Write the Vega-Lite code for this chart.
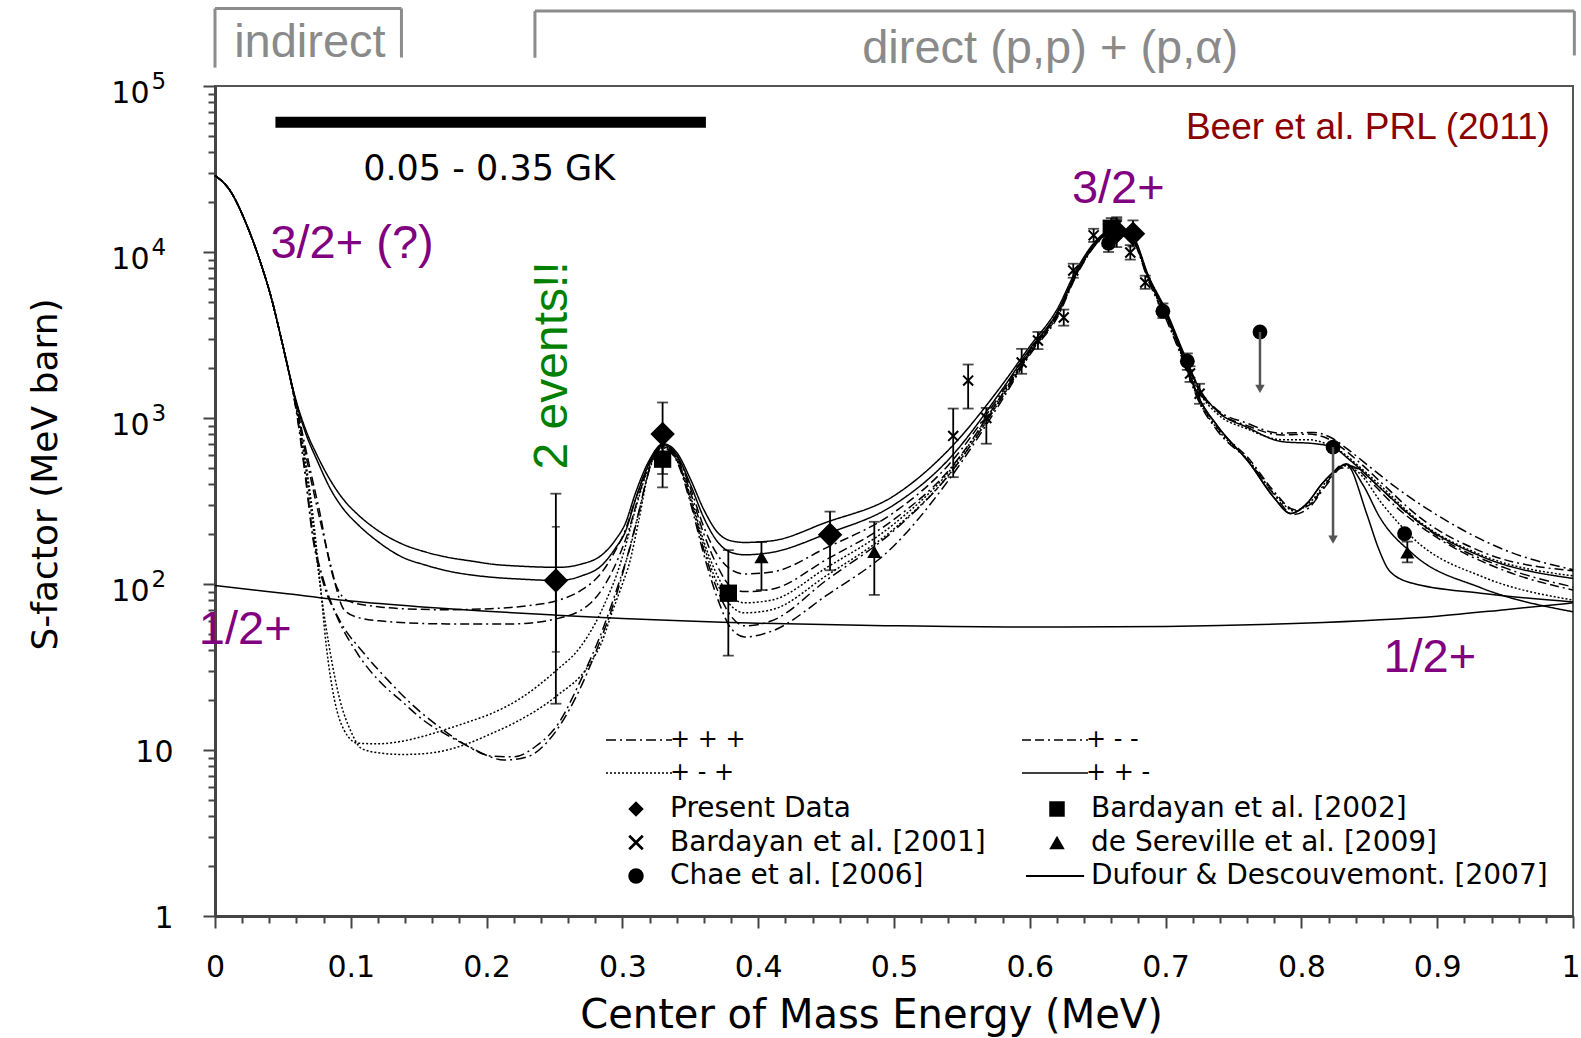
{
"$schema": "https://vega.github.io/schema/vega-lite/v6.json",
"width": 1358, "height": 830,
"autosize": "none",
"padding": {"left": 215, "top": 86, "right": 8, "bottom": 122},
"background": "white",
"config": {"view": {"stroke": "#555", "strokeWidth": 2}, "font": "DejaVu Sans"},
"resolve": {"axis": {"x": "independent", "y": "independent"}},
"datasets": {
"half": [{"x":0,"y":98},{"x":0.05,"y":88},{"x":0.1,"y":79},{"x":0.15,"y":73},{"x":0.2,"y":68.5},{"x":0.25,"y":65},{"x":0.3,"y":62},{"x":0.4,"y":58},{"x":0.5,"y":56},{"x":0.6,"y":55},{"x":0.7,"y":55.5},{"x":0.8,"y":58},{"x":0.9,"y":64},{"x":0.95,"y":70},{"x":1,"y":77}],
"duf": [{"x":0.7,"y":4300},{"x":0.713,"y":2350},{"x":0.725,"y":1300},{"x":0.738,"y":900},{"x":0.762,"y":532},{"x":0.78,"y":330},{"x":0.792,"y":266},{"x":0.804,"y":305},{"x":0.815,"y":400},{"x":0.826,"y":490},{"x":0.833,"y":525},{"x":0.848,"y":266},{"x":0.856,"y":170},{"x":0.863,"y":126},{"x":0.872,"y":108},{"x":0.882,"y":101},{"x":0.932,"y":88},{"x":1,"y":78}],
"curves": [
{"c":"S1","s":"+ + -","x":0,"y":28900},{"c":"S1","s":"+ + -","x":0.011,"y":23500},{"c":"S1","s":"+ + -","x":0.023,"y":14800},{"c":"S1","s":"+ + -","x":0.033,"y":8900},{"c":"S1","s":"+ + -","x":0.042,"y":5100},{"c":"S1","s":"+ + -","x":0.049,"y":2950},{"c":"S1","s":"+ + -","x":0.055,"y":1800},
{"c":"S1","s":"+ + -","x":0.06,"y":1250},{"c":"S1","s":"+ + -","x":0.0675,"y":820},{"c":"S1","s":"+ + -","x":0.075,"y":600},{"c":"S1","s":"+ + -","x":0.0853,"y":417},{"c":"S1","s":"+ + -","x":0.095,"y":320},{"c":"S1","s":"+ + -","x":0.105,"y":263},{"c":"S1","s":"+ + -","x":0.12,"y":210},{"c":"S1","s":"+ + -","x":0.138,"y":174},{"c":"S1","s":"+ + -","x":0.155,"y":156},{"c":"S1","s":"+ + -","x":0.171,"y":145},{"c":"S1","s":"+ + -","x":0.19,"y":137},{"c":"S1","s":"+ + -","x":0.203,"y":132},{"c":"S1","s":"+ + -","x":0.225,"y":128},{"c":"S1","s":"+ + -","x":0.253,"y":126},{"c":"S1","s":"+ + -","x":0.27,"y":132},{"c":"S1","s":"+ + -","x":0.285,"y":150},{"c":"S1","s":"+ + -","x":0.295,"y":185},{"c":"S1","s":"+ + -","x":0.302,"y":230},{"c":"S1","s":"+ + -","x":0.31,"y":360},{"c":"S1","s":"+ + -","x":0.32,"y":560},{"c":"S1","s":"+ + -","x":0.33,"y":700},{"c":"S1","s":"+ + -","x":0.34,"y":620},{"c":"S1","s":"+ + -","x":0.35,"y":430},{"c":"S1","s":"+ + -","x":0.36,"y":280},{"c":"S1","s":"+ + -","x":0.37,"y":205},{"c":"S1","s":"+ + -","x":0.38,"y":182},{"c":"S1","s":"+ + -","x":0.39,"y":178},{"c":"S1","s":"+ + -","x":0.41,"y":182},{"c":"S1","s":"+ + -","x":0.45,"y":235},{"c":"S1","s":"+ + -","x":0.5,"y":340},{"c":"S1","s":"+ + -","x":0.54,"y":640},{"c":"S1","s":"+ + -","x":0.58,"y":1600},{"c":"S1","s":"+ + -","x":0.6,"y":2700},{"c":"S1","s":"+ + -","x":0.62,"y":4500},{"c":"S1","s":"+ + -","x":0.635,"y":8000},{"c":"S1","s":"+ + -","x":0.65,"y":12000},{"c":"S1","s":"+ + -","x":0.664,"y":14000},{"c":"S1","s":"+ + -","x":0.675,"y":12800},{"c":"S1","s":"+ + -","x":0.688,"y":7000},{"c":"S1","s":"+ + -","x":0.7,"y":4500},{"c":"S1","s":"+ + -","x":0.713,"y":2500},{"c":"S1","s":"+ + -","x":0.725,"y":1500},{"c":"S1","s":"+ + -","x":0.738,"y":1100},{"c":"S1","s":"+ + -","x":0.76,"y":880},{"c":"S1","s":"+ + -","x":0.786,"y":720},{"c":"S1","s":"+ + -","x":0.81,"y":700},{"c":"S1","s":"+ + -","x":0.823,"y":668},{"c":"S1","s":"+ + -","x":0.836,"y":555},{"c":"S1","s":"+ + -","x":0.86,"y":366},{"c":"S1","s":"+ + -","x":0.885,"y":241},{"c":"S1","s":"+ + -","x":0.934,"y":145},{"c":"S1","s":"+ + -","x":1,"y":108},
{"c":"S2","s":"+ + -","x":0,"y":28900},{"c":"S2","s":"+ + -","x":0.011,"y":23500},{"c":"S2","s":"+ + -","x":0.023,"y":14800},{"c":"S2","s":"+ + -","x":0.033,"y":8900},{"c":"S2","s":"+ + -","x":0.042,"y":5100},{"c":"S2","s":"+ + -","x":0.049,"y":2950},{"c":"S2","s":"+ + -","x":0.055,"y":1800},
{"c":"S2","s":"+ + -","x":0.06,"y":1220},{"c":"S2","s":"+ + -","x":0.0675,"y":780},{"c":"S2","s":"+ + -","x":0.075,"y":560},{"c":"S2","s":"+ + -","x":0.0853,"y":370},{"c":"S2","s":"+ + -","x":0.095,"y":280},{"c":"S2","s":"+ + -","x":0.105,"y":229},{"c":"S2","s":"+ + -","x":0.12,"y":180},{"c":"S2","s":"+ + -","x":0.138,"y":145},{"c":"S2","s":"+ + -","x":0.155,"y":130},{"c":"S2","s":"+ + -","x":0.171,"y":120},{"c":"S2","s":"+ + -","x":0.19,"y":113},{"c":"S2","s":"+ + -","x":0.203,"y":110},{"c":"S2","s":"+ + -","x":0.225,"y":107},{"c":"S2","s":"+ + -","x":0.253,"y":105},{"c":"S2","s":"+ + -","x":0.27,"y":112},{"c":"S2","s":"+ + -","x":0.285,"y":130},{"c":"S2","s":"+ + -","x":0.295,"y":165},{"c":"S2","s":"+ + -","x":0.302,"y":205},{"c":"S2","s":"+ + -","x":0.31,"y":330},{"c":"S2","s":"+ + -","x":0.32,"y":540},{"c":"S2","s":"+ + -","x":0.33,"y":690},{"c":"S2","s":"+ + -","x":0.34,"y":600},{"c":"S2","s":"+ + -","x":0.35,"y":400},{"c":"S2","s":"+ + -","x":0.36,"y":250},{"c":"S2","s":"+ + -","x":0.37,"y":180},{"c":"S2","s":"+ + -","x":0.38,"y":155},{"c":"S2","s":"+ + -","x":0.39,"y":150},{"c":"S2","s":"+ + -","x":0.41,"y":155},{"c":"S2","s":"+ + -","x":0.45,"y":200},{"c":"S2","s":"+ + -","x":0.5,"y":300},{"c":"S2","s":"+ + -","x":0.54,"y":560},{"c":"S2","s":"+ + -","x":0.58,"y":1500},{"c":"S2","s":"+ + -","x":0.6,"y":2600},{"c":"S2","s":"+ + -","x":0.62,"y":4300},{"c":"S2","s":"+ + -","x":0.635,"y":7700},{"c":"S2","s":"+ + -","x":0.65,"y":11800},{"c":"S2","s":"+ + -","x":0.664,"y":13800},{"c":"S2","s":"+ + -","x":0.675,"y":12500},{"c":"S2","s":"+ + -","x":0.688,"y":6800},{"c":"S2","s":"+ + -","x":0.7,"y":4300},{"c":"S2","s":"+ + -","x":0.713,"y":2350},{"c":"S2","s":"+ + -","x":0.725,"y":1300},{"c":"S2","s":"+ + -","x":0.738,"y":900},{"c":"S2","s":"+ + -","x":0.762,"y":532},{"c":"S2","s":"+ + -","x":0.78,"y":330},{"c":"S2","s":"+ + -","x":0.792,"y":266},{"c":"S2","s":"+ + -","x":0.804,"y":305},{"c":"S2","s":"+ + -","x":0.815,"y":400},{"c":"S2","s":"+ + -","x":0.826,"y":490},{"c":"S2","s":"+ + -","x":0.833,"y":530},{"c":"S2","s":"+ + -","x":0.845,"y":400},{"c":"S2","s":"+ + -","x":0.858,"y":250},{"c":"S2","s":"+ + -","x":0.882,"y":152},{"c":"S2","s":"+ + -","x":0.932,"y":95},{"c":"S2","s":"+ + -","x":1,"y":68},
{"c":"D1","s":"+ - -","x":0,"y":28900},{"c":"D1","s":"+ - -","x":0.011,"y":23500},{"c":"D1","s":"+ - -","x":0.023,"y":14800},{"c":"D1","s":"+ - -","x":0.033,"y":8900},{"c":"D1","s":"+ - -","x":0.042,"y":5100},{"c":"D1","s":"+ - -","x":0.049,"y":2950},{"c":"D1","s":"+ - -","x":0.055,"y":1800},
{"c":"D1","s":"+ - -","x":0.06,"y":1200},{"c":"D1","s":"+ - -","x":0.066,"y":700},{"c":"D1","s":"+ - -","x":0.072,"y":417},{"c":"D1","s":"+ - -","x":0.078,"y":250},{"c":"D1","s":"+ - -","x":0.082,"y":166},{"c":"D1","s":"+ - -","x":0.087,"y":110},{"c":"D1","s":"+ - -","x":0.092,"y":88},{"c":"D1","s":"+ - -","x":0.1,"y":78},{"c":"D1","s":"+ - -","x":0.12,"y":73},{"c":"D1","s":"+ - -","x":0.138,"y":71},{"c":"D1","s":"+ - -","x":0.17,"y":70},{"c":"D1","s":"+ - -","x":0.203,"y":71},{"c":"D1","s":"+ - -","x":0.23,"y":74},{"c":"D1","s":"+ - -","x":0.251,"y":79},{"c":"D1","s":"+ - -","x":0.269,"y":91},{"c":"D1","s":"+ - -","x":0.285,"y":118},{"c":"D1","s":"+ - -","x":0.295,"y":160},{"c":"D1","s":"+ - -","x":0.302,"y":210},{"c":"D1","s":"+ - -","x":0.31,"y":330},{"c":"D1","s":"+ - -","x":0.32,"y":540},{"c":"D1","s":"+ - -","x":0.33,"y":680},{"c":"D1","s":"+ - -","x":0.34,"y":590},{"c":"D1","s":"+ - -","x":0.35,"y":380},{"c":"D1","s":"+ - -","x":0.36,"y":220},{"c":"D1","s":"+ - -","x":0.37,"y":150},{"c":"D1","s":"+ - -","x":0.38,"y":122},{"c":"D1","s":"+ - -","x":0.39,"y":115},{"c":"D1","s":"+ - -","x":0.41,"y":118},{"c":"D1","s":"+ - -","x":0.45,"y":165},{"c":"D1","s":"+ - -","x":0.5,"y":270},{"c":"D1","s":"+ - -","x":0.54,"y":520},{"c":"D1","s":"+ - -","x":0.58,"y":1450},{"c":"D1","s":"+ - -","x":0.6,"y":2550},{"c":"D1","s":"+ - -","x":0.62,"y":4300},{"c":"D1","s":"+ - -","x":0.635,"y":7700},{"c":"D1","s":"+ - -","x":0.65,"y":11800},{"c":"D1","s":"+ - -","x":0.664,"y":13800},{"c":"D1","s":"+ - -","x":0.675,"y":12500},{"c":"D1","s":"+ - -","x":0.688,"y":6900},{"c":"D1","s":"+ - -","x":0.7,"y":4400},{"c":"D1","s":"+ - -","x":0.713,"y":2450},{"c":"D1","s":"+ - -","x":0.725,"y":1450},{"c":"D1","s":"+ - -","x":0.738,"y":1100},{"c":"D1","s":"+ - -","x":0.76,"y":900},{"c":"D1","s":"+ - -","x":0.786,"y":790},{"c":"D1","s":"+ - -","x":0.805,"y":800},{"c":"D1","s":"+ - -","x":0.818,"y":760},{"c":"D1","s":"+ - -","x":0.83,"y":660},{"c":"D1","s":"+ - -","x":0.845,"y":520},{"c":"D1","s":"+ - -","x":0.86,"y":400},{"c":"D1","s":"+ - -","x":0.885,"y":260},{"c":"D1","s":"+ - -","x":0.934,"y":155},{"c":"D1","s":"+ - -","x":1,"y":120},
{"c":"D2","s":"+ - -","x":0,"y":28900},{"c":"D2","s":"+ - -","x":0.011,"y":23500},{"c":"D2","s":"+ - -","x":0.023,"y":14800},{"c":"D2","s":"+ - -","x":0.033,"y":8900},{"c":"D2","s":"+ - -","x":0.042,"y":5100},{"c":"D2","s":"+ - -","x":0.049,"y":2950},{"c":"D2","s":"+ - -","x":0.055,"y":1800},
{"c":"D2","s":"+ - -","x":0.06,"y":1180},{"c":"D2","s":"+ - -","x":0.066,"y":650},{"c":"D2","s":"+ - -","x":0.072,"y":380},{"c":"D2","s":"+ - -","x":0.078,"y":230},{"c":"D2","s":"+ - -","x":0.085,"y":132},{"c":"D2","s":"+ - -","x":0.095,"y":70},{"c":"D2","s":"+ - -","x":0.105,"y":63},{"c":"D2","s":"+ - -","x":0.121,"y":60},{"c":"D2","s":"+ - -","x":0.171,"y":57.5},{"c":"D2","s":"+ - -","x":0.22,"y":57.5},{"c":"D2","s":"+ - -","x":0.251,"y":61.6},{"c":"D2","s":"+ - -","x":0.276,"y":76},{"c":"D2","s":"+ - -","x":0.289,"y":105},{"c":"D2","s":"+ - -","x":0.298,"y":150},{"c":"D2","s":"+ - -","x":0.305,"y":215},{"c":"D2","s":"+ - -","x":0.312,"y":340},{"c":"D2","s":"+ - -","x":0.32,"y":530},{"c":"D2","s":"+ - -","x":0.33,"y":680},{"c":"D2","s":"+ - -","x":0.34,"y":580},{"c":"D2","s":"+ - -","x":0.35,"y":360},{"c":"D2","s":"+ - -","x":0.36,"y":200},{"c":"D2","s":"+ - -","x":0.37,"y":128},{"c":"D2","s":"+ - -","x":0.38,"y":96},{"c":"D2","s":"+ - -","x":0.39,"y":90},{"c":"D2","s":"+ - -","x":0.41,"y":93},{"c":"D2","s":"+ - -","x":0.45,"y":140},{"c":"D2","s":"+ - -","x":0.5,"y":245},{"c":"D2","s":"+ - -","x":0.54,"y":480},{"c":"D2","s":"+ - -","x":0.58,"y":1400},{"c":"D2","s":"+ - -","x":0.6,"y":2500},{"c":"D2","s":"+ - -","x":0.62,"y":4200},{"c":"D2","s":"+ - -","x":0.635,"y":7600},{"c":"D2","s":"+ - -","x":0.65,"y":11600},{"c":"D2","s":"+ - -","x":0.664,"y":13700},{"c":"D2","s":"+ - -","x":0.675,"y":12300},{"c":"D2","s":"+ - -","x":0.688,"y":6700},{"c":"D2","s":"+ - -","x":0.7,"y":4200},{"c":"D2","s":"+ - -","x":0.713,"y":2300},{"c":"D2","s":"+ - -","x":0.725,"y":1280},{"c":"D2","s":"+ - -","x":0.738,"y":880},{"c":"D2","s":"+ - -","x":0.762,"y":560},{"c":"D2","s":"+ - -","x":0.78,"y":360},{"c":"D2","s":"+ - -","x":0.795,"y":280},{"c":"D2","s":"+ - -","x":0.806,"y":300},{"c":"D2","s":"+ - -","x":0.818,"y":400},{"c":"D2","s":"+ - -","x":0.83,"y":520},{"c":"D2","s":"+ - -","x":0.838,"y":510},{"c":"D2","s":"+ - -","x":0.85,"y":420},{"c":"D2","s":"+ - -","x":0.87,"y":290},{"c":"D2","s":"+ - -","x":0.9,"y":190},{"c":"D2","s":"+ - -","x":0.95,"y":120},{"c":"D2","s":"+ - -","x":1,"y":92},
{"c":"T1","s":"+ - +","x":0,"y":28900},{"c":"T1","s":"+ - +","x":0.011,"y":23500},{"c":"T1","s":"+ - +","x":0.023,"y":14800},{"c":"T1","s":"+ - +","x":0.033,"y":8900},{"c":"T1","s":"+ - +","x":0.042,"y":5100},{"c":"T1","s":"+ - +","x":0.049,"y":2950},{"c":"T1","s":"+ - +","x":0.055,"y":1800},
{"c":"T1","s":"+ - +","x":0.06,"y":1150},{"c":"T1","s":"+ - +","x":0.066,"y":600},{"c":"T1","s":"+ - +","x":0.072,"y":263},{"c":"T1","s":"+ - +","x":0.077,"y":110},{"c":"T1","s":"+ - +","x":0.082,"y":42},{"c":"T1","s":"+ - +","x":0.088,"y":20},{"c":"T1","s":"+ - +","x":0.095,"y":13.2},{"c":"T1","s":"+ - +","x":0.105,"y":11},{"c":"T1","s":"+ - +","x":0.12,"y":10.9},{"c":"T1","s":"+ - +","x":0.138,"y":11.3},{"c":"T1","s":"+ - +","x":0.155,"y":12.2},{"c":"T1","s":"+ - +","x":0.171,"y":13.4},{"c":"T1","s":"+ - +","x":0.187,"y":14.8},{"c":"T1","s":"+ - +","x":0.203,"y":16.5},{"c":"T1","s":"+ - +","x":0.225,"y":20.5},{"c":"T1","s":"+ - +","x":0.251,"y":30},{"c":"T1","s":"+ - +","x":0.269,"y":41.7},{"c":"T1","s":"+ - +","x":0.28,"y":58},{"c":"T1","s":"+ - +","x":0.289,"y":83},{"c":"T1","s":"+ - +","x":0.296,"y":115},{"c":"T1","s":"+ - +","x":0.302,"y":166},{"c":"T1","s":"+ - +","x":0.31,"y":290},{"c":"T1","s":"+ - +","x":0.32,"y":520},{"c":"T1","s":"+ - +","x":0.33,"y":670},{"c":"T1","s":"+ - +","x":0.34,"y":570},{"c":"T1","s":"+ - +","x":0.35,"y":340},{"c":"T1","s":"+ - +","x":0.36,"y":180},{"c":"T1","s":"+ - +","x":0.37,"y":112},{"c":"T1","s":"+ - +","x":0.38,"y":84},{"c":"T1","s":"+ - +","x":0.39,"y":77},{"c":"T1","s":"+ - +","x":0.41,"y":80},{"c":"T1","s":"+ - +","x":0.45,"y":125},{"c":"T1","s":"+ - +","x":0.5,"y":230},{"c":"T1","s":"+ - +","x":0.54,"y":470},{"c":"T1","s":"+ - +","x":0.58,"y":1400},{"c":"T1","s":"+ - +","x":0.6,"y":2500},{"c":"T1","s":"+ - +","x":0.62,"y":4200},{"c":"T1","s":"+ - +","x":0.635,"y":7600},{"c":"T1","s":"+ - +","x":0.65,"y":11600},{"c":"T1","s":"+ - +","x":0.664,"y":13700},{"c":"T1","s":"+ - +","x":0.675,"y":12300},{"c":"T1","s":"+ - +","x":0.688,"y":6800},{"c":"T1","s":"+ - +","x":0.7,"y":4300},{"c":"T1","s":"+ - +","x":0.713,"y":2400},{"c":"T1","s":"+ - +","x":0.725,"y":1420},{"c":"T1","s":"+ - +","x":0.738,"y":1060},{"c":"T1","s":"+ - +","x":0.76,"y":860},{"c":"T1","s":"+ - +","x":0.786,"y":740},{"c":"T1","s":"+ - +","x":0.805,"y":740},{"c":"T1","s":"+ - +","x":0.818,"y":700},{"c":"T1","s":"+ - +","x":0.83,"y":620},{"c":"T1","s":"+ - +","x":0.845,"y":490},{"c":"T1","s":"+ - +","x":0.86,"y":380},{"c":"T1","s":"+ - +","x":0.885,"y":245},{"c":"T1","s":"+ - +","x":0.934,"y":148},{"c":"T1","s":"+ - +","x":1,"y":112},
{"c":"T2","s":"+ - +","x":0,"y":28900},{"c":"T2","s":"+ - +","x":0.011,"y":23500},{"c":"T2","s":"+ - +","x":0.023,"y":14800},{"c":"T2","s":"+ - +","x":0.033,"y":8900},{"c":"T2","s":"+ - +","x":0.042,"y":5100},{"c":"T2","s":"+ - +","x":0.049,"y":2950},{"c":"T2","s":"+ - +","x":0.055,"y":1800},
{"c":"T2","s":"+ - +","x":0.06,"y":1120},{"c":"T2","s":"+ - +","x":0.066,"y":560},{"c":"T2","s":"+ - +","x":0.072,"y":230},{"c":"T2","s":"+ - +","x":0.078,"y":90},{"c":"T2","s":"+ - +","x":0.085,"y":38},{"c":"T2","s":"+ - +","x":0.092,"y":20},{"c":"T2","s":"+ - +","x":0.1,"y":13},{"c":"T2","s":"+ - +","x":0.108,"y":10.2},{"c":"T2","s":"+ - +","x":0.121,"y":9.6},{"c":"T2","s":"+ - +","x":0.138,"y":9.4},{"c":"T2","s":"+ - +","x":0.154,"y":9.5},{"c":"T2","s":"+ - +","x":0.171,"y":10},{"c":"T2","s":"+ - +","x":0.187,"y":11},{"c":"T2","s":"+ - +","x":0.203,"y":12.5},{"c":"T2","s":"+ - +","x":0.22,"y":14.5},{"c":"T2","s":"+ - +","x":0.251,"y":21},{"c":"T2","s":"+ - +","x":0.276,"y":33},{"c":"T2","s":"+ - +","x":0.285,"y":45},{"c":"T2","s":"+ - +","x":0.292,"y":66},{"c":"T2","s":"+ - +","x":0.3,"y":100},{"c":"T2","s":"+ - +","x":0.305,"y":132},{"c":"T2","s":"+ - +","x":0.312,"y":240},{"c":"T2","s":"+ - +","x":0.32,"y":500},{"c":"T2","s":"+ - +","x":0.33,"y":670},{"c":"T2","s":"+ - +","x":0.34,"y":560},{"c":"T2","s":"+ - +","x":0.35,"y":330},{"c":"T2","s":"+ - +","x":0.36,"y":170},{"c":"T2","s":"+ - +","x":0.37,"y":100},{"c":"T2","s":"+ - +","x":0.38,"y":74},{"c":"T2","s":"+ - +","x":0.39,"y":67},{"c":"T2","s":"+ - +","x":0.41,"y":70},{"c":"T2","s":"+ - +","x":0.45,"y":112},{"c":"T2","s":"+ - +","x":0.5,"y":215},{"c":"T2","s":"+ - +","x":0.54,"y":450},{"c":"T2","s":"+ - +","x":0.58,"y":1350},{"c":"T2","s":"+ - +","x":0.6,"y":2450},{"c":"T2","s":"+ - +","x":0.62,"y":4100},{"c":"T2","s":"+ - +","x":0.635,"y":7500},{"c":"T2","s":"+ - +","x":0.65,"y":11500},{"c":"T2","s":"+ - +","x":0.664,"y":13600},{"c":"T2","s":"+ - +","x":0.675,"y":12200},{"c":"T2","s":"+ - +","x":0.688,"y":6600},{"c":"T2","s":"+ - +","x":0.7,"y":4100},{"c":"T2","s":"+ - +","x":0.713,"y":2250},{"c":"T2","s":"+ - +","x":0.725,"y":1250},{"c":"T2","s":"+ - +","x":0.738,"y":860},{"c":"T2","s":"+ - +","x":0.762,"y":545},{"c":"T2","s":"+ - +","x":0.78,"y":350},{"c":"T2","s":"+ - +","x":0.795,"y":275},{"c":"T2","s":"+ - +","x":0.808,"y":320},{"c":"T2","s":"+ - +","x":0.82,"y":430},{"c":"T2","s":"+ - +","x":0.832,"y":515},{"c":"T2","s":"+ - +","x":0.842,"y":470},{"c":"T2","s":"+ - +","x":0.86,"y":300},{"c":"T2","s":"+ - +","x":0.885,"y":180},{"c":"T2","s":"+ - +","x":0.934,"y":110},{"c":"T2","s":"+ - +","x":1,"y":80},
{"c":"C1","s":"+ + +","x":0,"y":28900},{"c":"C1","s":"+ + +","x":0.011,"y":23500},{"c":"C1","s":"+ + +","x":0.023,"y":14800},{"c":"C1","s":"+ + +","x":0.033,"y":8900},{"c":"C1","s":"+ + +","x":0.042,"y":5100},{"c":"C1","s":"+ + +","x":0.049,"y":2950},{"c":"C1","s":"+ + +","x":0.055,"y":1800},
{"c":"C1","s":"+ + +","x":0.06,"y":1100},{"c":"C1","s":"+ + +","x":0.066,"y":500},{"c":"C1","s":"+ + +","x":0.072,"y":200},{"c":"C1","s":"+ + +","x":0.08,"y":105},{"c":"C1","s":"+ + +","x":0.089,"y":66},{"c":"C1","s":"+ + +","x":0.105,"y":38},{"c":"C1","s":"+ + +","x":0.121,"y":26},{"c":"C1","s":"+ + +","x":0.138,"y":19.5},{"c":"C1","s":"+ + +","x":0.154,"y":15},{"c":"C1","s":"+ + +","x":0.171,"y":12.3},{"c":"C1","s":"+ + +","x":0.187,"y":10.5},{"c":"C1","s":"+ + +","x":0.203,"y":9.2},{"c":"C1","s":"+ + +","x":0.22,"y":9.1},{"c":"C1","s":"+ + +","x":0.236,"y":10.5},{"c":"C1","s":"+ + +","x":0.253,"y":14.5},{"c":"C1","s":"+ + +","x":0.269,"y":26},{"c":"C1","s":"+ + +","x":0.285,"y":52},{"c":"C1","s":"+ + +","x":0.298,"y":105},{"c":"C1","s":"+ + +","x":0.306,"y":170},{"c":"C1","s":"+ + +","x":0.313,"y":290},{"c":"C1","s":"+ + +","x":0.32,"y":500},{"c":"C1","s":"+ + +","x":0.33,"y":660},{"c":"C1","s":"+ + +","x":0.34,"y":560},{"c":"C1","s":"+ + +","x":0.35,"y":320},{"c":"C1","s":"+ + +","x":0.36,"y":160},{"c":"C1","s":"+ + +","x":0.37,"y":92},{"c":"C1","s":"+ + +","x":0.38,"y":64},{"c":"C1","s":"+ + +","x":0.39,"y":56},{"c":"C1","s":"+ + +","x":0.41,"y":60},{"c":"C1","s":"+ + +","x":0.45,"y":105},{"c":"C1","s":"+ + +","x":0.5,"y":210},{"c":"C1","s":"+ + +","x":0.54,"y":450},{"c":"C1","s":"+ + +","x":0.58,"y":1350},{"c":"C1","s":"+ + +","x":0.6,"y":2450},{"c":"C1","s":"+ + +","x":0.62,"y":4100},{"c":"C1","s":"+ + +","x":0.635,"y":7500},{"c":"C1","s":"+ + +","x":0.65,"y":11500},{"c":"C1","s":"+ + +","x":0.664,"y":13600},{"c":"C1","s":"+ + +","x":0.675,"y":12300},{"c":"C1","s":"+ + +","x":0.688,"y":6800},{"c":"C1","s":"+ + +","x":0.7,"y":4350},{"c":"C1","s":"+ + +","x":0.713,"y":2450},{"c":"C1","s":"+ + +","x":0.725,"y":1470},{"c":"C1","s":"+ + +","x":0.738,"y":1120},{"c":"C1","s":"+ + +","x":0.76,"y":930},{"c":"C1","s":"+ + +","x":0.784,"y":810},{"c":"C1","s":"+ + +","x":0.809,"y":818},{"c":"C1","s":"+ + +","x":0.822,"y":760},{"c":"C1","s":"+ + +","x":0.835,"y":640},{"c":"C1","s":"+ + +","x":0.85,"y":510},{"c":"C1","s":"+ + +","x":0.87,"y":380},{"c":"C1","s":"+ + +","x":0.9,"y":260},{"c":"C1","s":"+ + +","x":0.95,"y":160},{"c":"C1","s":"+ + +","x":1,"y":122},
{"c":"C2","s":"+ + +","x":0,"y":28900},{"c":"C2","s":"+ + +","x":0.011,"y":23500},{"c":"C2","s":"+ + +","x":0.023,"y":14800},{"c":"C2","s":"+ + +","x":0.033,"y":8900},{"c":"C2","s":"+ + +","x":0.042,"y":5100},{"c":"C2","s":"+ + +","x":0.049,"y":2950},{"c":"C2","s":"+ + +","x":0.055,"y":1800},
{"c":"C2","s":"+ + +","x":0.06,"y":1080},{"c":"C2","s":"+ + +","x":0.066,"y":480},{"c":"C2","s":"+ + +","x":0.072,"y":190},{"c":"C2","s":"+ + +","x":0.08,"y":100},{"c":"C2","s":"+ + +","x":0.092,"y":60},{"c":"C2","s":"+ + +","x":0.11,"y":38},{"c":"C2","s":"+ + +","x":0.128,"y":26},{"c":"C2","s":"+ + +","x":0.146,"y":18.5},{"c":"C2","s":"+ + +","x":0.164,"y":14},{"c":"C2","s":"+ + +","x":0.18,"y":11.3},{"c":"C2","s":"+ + +","x":0.197,"y":9.5},{"c":"C2","s":"+ + +","x":0.213,"y":8.7},{"c":"C2","s":"+ + +","x":0.23,"y":9.1},{"c":"C2","s":"+ + +","x":0.246,"y":11.5},{"c":"C2","s":"+ + +","x":0.266,"y":21},{"c":"C2","s":"+ + +","x":0.282,"y":42},{"c":"C2","s":"+ + +","x":0.295,"y":83},{"c":"C2","s":"+ + +","x":0.303,"y":140},{"c":"C2","s":"+ + +","x":0.311,"y":250},{"c":"C2","s":"+ + +","x":0.32,"y":490},{"c":"C2","s":"+ + +","x":0.33,"y":660},{"c":"C2","s":"+ + +","x":0.34,"y":550},{"c":"C2","s":"+ + +","x":0.35,"y":310},{"c":"C2","s":"+ + +","x":0.36,"y":150},{"c":"C2","s":"+ + +","x":0.37,"y":82},{"c":"C2","s":"+ + +","x":0.38,"y":54},{"c":"C2","s":"+ + +","x":0.39,"y":48},{"c":"C2","s":"+ + +","x":0.41,"y":52},{"c":"C2","s":"+ + +","x":0.45,"y":85},{"c":"C2","s":"+ + +","x":0.5,"y":170},{"c":"C2","s":"+ + +","x":0.54,"y":420},{"c":"C2","s":"+ + +","x":0.58,"y":1300},{"c":"C2","s":"+ + +","x":0.6,"y":2400},{"c":"C2","s":"+ + +","x":0.62,"y":4000},{"c":"C2","s":"+ + +","x":0.635,"y":7400},{"c":"C2","s":"+ + +","x":0.65,"y":11400},{"c":"C2","s":"+ + +","x":0.664,"y":13500},{"c":"C2","s":"+ + +","x":0.675,"y":12100},{"c":"C2","s":"+ + +","x":0.688,"y":6500},{"c":"C2","s":"+ + +","x":0.7,"y":4000},{"c":"C2","s":"+ + +","x":0.713,"y":2200},{"c":"C2","s":"+ + +","x":0.725,"y":1230},{"c":"C2","s":"+ + +","x":0.738,"y":840},{"c":"C2","s":"+ + +","x":0.762,"y":540},{"c":"C2","s":"+ + +","x":0.78,"y":345},{"c":"C2","s":"+ + +","x":0.794,"y":262},{"c":"C2","s":"+ + +","x":0.806,"y":290},{"c":"C2","s":"+ + +","x":0.818,"y":390},{"c":"C2","s":"+ + +","x":0.83,"y":500},{"c":"C2","s":"+ + +","x":0.84,"y":500},{"c":"C2","s":"+ + +","x":0.855,"y":400},{"c":"C2","s":"+ + +","x":0.875,"y":280},{"c":"C2","s":"+ + +","x":0.9,"y":195},{"c":"C2","s":"+ + +","x":0.95,"y":125},{"c":"C2","s":"+ + +","x":1,"y":96}
],
"pts": [
{"d":"Present Data","x":0.251,"y":105,"lo":19,"hi":350,"lo2":39,"hi2":221},
{"d":"Present Data","x":0.3296,"y":800,"lo":460,"hi":1240,"lo2":null,"hi2":null},
{"d":"Present Data","x":0.4529,"y":198,"lo":121,"hi":273,"lo2":null,"hi2":null},
{"d":"Present Data","x":0.664,"y":13300,"lo":10700,"hi":16200,"lo2":null,"hi2":null},
{"d":"Present Data","x":0.676,"y":12900,"lo":10800,"hi":15500,"lo2":null,"hi2":null},
{"d":"Bardayan et al. [2002]","x":0.3296,"y":565,"lo":382,"hi":748,"lo2":null,"hi2":null},
{"d":"Bardayan et al. [2002]","x":0.378,"y":88,"lo":37,"hi":160,"lo2":null,"hi2":null},
{"d":"Bardayan et al. [2002]","x":0.66,"y":13900,"lo":12000,"hi":16000,"lo2":null,"hi2":null},
{"d":"de Sereville et al. [2009]","x":0.4024,"y":145,"lo":92,"hi":179,"lo2":null,"hi2":null},
{"d":"de Sereville et al. [2009]","x":0.4855,"y":156,"lo":86,"hi":237,"lo2":null,"hi2":null},
{"d":"de Sereville et al. [2009]","x":0.658,"y":11800,"lo":10000,"hi":13500,"lo2":null,"hi2":null},
{"d":"de Sereville et al. [2009]","x":0.878,"y":155,"lo":135,"hi":180,"lo2":null,"hi2":null},
{"d":"Chae et al. [2006]","x":0.658,"y":11300,"lo":null,"hi":null,"lo2":null,"hi2":null},
{"d":"Chae et al. [2006]","x":0.676,"y":12600,"lo":null,"hi":null,"lo2":null,"hi2":null},
{"d":"Chae et al. [2006]","x":0.698,"y":4400,"lo":4000,"hi":4900,"lo2":null,"hi2":null},
{"d":"Chae et al. [2006]","x":0.716,"y":2200,"lo":1950,"hi":2450,"lo2":null,"hi2":null},
{"d":"Chae et al. [2006]","x":0.7695,"y":3300,"lo":null,"hi":null,"lo2":null,"hi2":null},
{"d":"Chae et al. [2006]","x":0.8233,"y":668,"lo":null,"hi":null,"lo2":null,"hi2":null},
{"d":"Chae et al. [2006]","x":0.876,"y":201,"lo":null,"hi":null,"lo2":null,"hi2":null},
{"d":"Bardayan et al. [2001]","x":0.5436,"y":780,"lo":440,"hi":1140,"lo2":null,"hi2":null},
{"d":"Bardayan et al. [2001]","x":0.5546,"y":1680,"lo":1140,"hi":2100,"lo2":null,"hi2":null},
{"d":"Bardayan et al. [2001]","x":0.568,"y":1000,"lo":700,"hi":1150,"lo2":null,"hi2":null},
{"d":"Bardayan et al. [2001]","x":0.594,"y":2160,"lo":1846,"hi":2610,"lo2":null,"hi2":null},
{"d":"Bardayan et al. [2001]","x":0.606,"y":2930,"lo":2600,"hi":3300,"lo2":null,"hi2":null},
{"d":"Bardayan et al. [2001]","x":0.625,"y":4030,"lo":3600,"hi":4500,"lo2":null,"hi2":null},
{"d":"Bardayan et al. [2001]","x":0.632,"y":7730,"lo":7000,"hi":8500,"lo2":null,"hi2":null},
{"d":"Bardayan et al. [2001]","x":0.647,"y":12600,"lo":11500,"hi":13800,"lo2":null,"hi2":null},
{"d":"Bardayan et al. [2001]","x":0.664,"y":14500,"lo":13000,"hi":15800,"lo2":null,"hi2":null},
{"d":"Bardayan et al. [2001]","x":0.674,"y":9930,"lo":9000,"hi":11000,"lo2":null,"hi2":null},
{"d":"Bardayan et al. [2001]","x":0.685,"y":6550,"lo":6000,"hi":7200,"lo2":null,"hi2":null},
{"d":"Bardayan et al. [2001]","x":0.718,"y":1853,"lo":1650,"hi":2050,"lo2":null,"hi2":null},
{"d":"Bardayan et al. [2001]","x":0.725,"y":1400,"lo":1218,"hi":1607,"lo2":null,"hi2":null}
],
"lims": [{"x":0.7695,"y":3300,"lim":1500},{"x":0.8233,"y":668,"lim":185}],
"brackets": [
{"x":0,"x2":0,"y":293000,"y2":129000},{"x":0,"x2":0.1373,"y":293000,"y2":293000},{"x":0.1373,"x2":0.1373,"y":293000,"y2":148400},
{"x":0.2356,"x2":0.2356,"y":283000,"y2":148000},{"x":0.2356,"x2":1.001,"y":283000,"y2":283000},{"x":1.001,"x2":1.001,"y":283000,"y2":152700}
]
},
"layer": [
{"data":{"name":"half"},"mark":{"type":"line","color":"black","strokeWidth":1.5,"interpolate":"monotone"},
 "encoding":{
  "x":{"field":"x","type":"quantitative","scale":{"type":"linear","domain":[0,1],"nice":false,"zero":false},
   "axis":{"orient":"bottom","values":[0,0.1,0.2,0.3,0.4,0.5,0.6,0.7,0.8,0.9,1],"format":".1~f","tickSize":12,"tickWidth":2,"tickColor":"#444","domainColor":"#444","domainWidth":3,"labelFont":"DejaVu Sans","labelFontSize":30,"labelColor":"black","labelPadding":24,"labelAlign":{"condition":{"test":"datum.value == 1","value":"right"},"value":"center"},"labelOffset":{"condition":{"test":"datum.value == 1","value":7},"value":0},"labelFlush":false,"labelOverlap":false,"labelBound":false,"grid":false,"title":"Center of Mass Energy (MeV)","titleFont":"DejaVu Sans","titleFontSize":40,"titleFontWeight":"normal","titleColor":"black","titleX":656,"titleY":99,"titleAlign":"center","titleBaseline":"middle"}},
  "y":{"field":"y","type":"quantitative","scale":{"type":"log","domain":[1,100000],"nice":false},
   "axis":{"orient":"left","values":[1,10,100,1000,10000,100000],"labelExpr":"datum.value == 1 ? '1' : '10'","tickSize":12,"tickWidth":2,"tickColor":"#444","domainColor":"#444","domainWidth":3,"labelFont":"DejaVu Sans","labelFontSize":30,"labelColor":"black","labelPadding":{"condition":{"test":"datum.value > 10","value":54},"value":30},"labelOffset":{"condition":{"test":"datum.value > 10","value":7},"value":2},"labelBaseline":"middle","labelOverlap":false,"labelBound":false,"labelFlush":false,"grid":false,"title":"S-factor (MeV barn)","titleFont":"DejaVu Sans","titleFontSize":36,"titleFontWeight":"normal","titleColor":"black","titleX":-170,"titleY":388,"titleAngle":270,"titleAlign":"center","titleBaseline":"middle"}}}},
{"data":{"name":"duf"},"mark":{"type":"line","color":"black","strokeWidth":1.5,"interpolate":"monotone"},
 "encoding":{
  "x":{"field":"x","type":"quantitative","scale":{"type":"linear","domain":[0,1],"nice":false,"zero":false},
   "axis":{"orient":"bottom","values":[0.02,0.04,0.06,0.08,0.12,0.14,0.16,0.18,0.22,0.24,0.26,0.28,0.32,0.34,0.36,0.38,0.42,0.44,0.46,0.48,0.52,0.54,0.56,0.58,0.62,0.64,0.66,0.68,0.72,0.74,0.76,0.78,0.82,0.84,0.86,0.88,0.92,0.94,0.96,0.98],"labels":false,"domain":false,"tickSize":7,"tickWidth":2,"tickColor":"#444","grid":false,"title":null}},
  "y":{"field":"y","type":"quantitative","scale":{"type":"log","domain":[1,100000],"nice":false},
   "axis":{"orient":"left","values":[2,3,4,5,6,7,8,9,20,30,40,50,60,70,80,90,200,300,400,500,600,700,800,900,2000,3000,4000,5000,6000,7000,8000,9000,20000,30000,40000,50000,60000,70000,80000,90000],"labels":false,"domain":false,"tickSize":7,"tickWidth":2,"tickColor":"#444","grid":false,"title":null}}}},
{"data":{"name":"curves"},"mark":{"type":"line","color":"black","strokeWidth":1.5,"interpolate":"monotone"},
 "encoding":{
  "x":{"field":"x","type":"quantitative","scale":{"type":"linear","domain":[0,1],"nice":false,"zero":false},"axis":null},
  "y":{"field":"y","type":"quantitative","scale":{"type":"log","domain":[1,100000],"nice":false},"axis":null},
  "detail":{"field":"c","type":"nominal"},
  "strokeDash":{"field":"s","type":"nominal","scale":{"domain":["+ + +","+ - +","+ - -","+ + -"],"range":[[10,4,2,4],[2,2],[9,4,9,4,2,4],[1,0]]},
   "legend":{"title":null,"orient":"none","legendX":412,"legendY":642,"columns":2,"columnPadding":273,"rowPadding":9,"symbolType":"M-3.3,0H3.3","symbolSize":400,"symbolStrokeWidth":1.5,"symbolStrokeColor":"black","labelOffset":19,"labelFont":"DejaVu Sans","labelFontSize":24,"labelColor":"black","labelLimit":600,"padding":0}}}},
{"data":{"name":"brackets"},"mark":{"type":"rule","color":"#8c8c8c","strokeWidth":3},
 "encoding":{
  "x":{"field":"x","type":"quantitative","scale":{"type":"linear","domain":[0,1],"nice":false,"zero":false},"axis":null},
  "x2":{"field":"x2"},
  "y":{"field":"y","type":"quantitative","scale":{"type":"log","domain":[1,100000],"nice":false},"axis":null},
  "y2":{"field":"y2"}}},
{"data":{"values":[{"x":0.0445,"x2":0.3615,"y":60400}]},"mark":{"type":"rule","color":"black","strokeWidth":11},
 "encoding":{
  "x":{"field":"x","type":"quantitative","scale":{"type":"linear","domain":[0,1],"nice":false,"zero":false},"axis":null},
  "x2":{"field":"x2"},
  "y":{"field":"y","type":"quantitative","scale":{"type":"log","domain":[1,100000],"nice":false},
   "axis":{"orient":"left","values":[100,1000,10000,100000],"labelExpr":"datum.value == 100 ? '2' : datum.value == 1000 ? '3' : datum.value == 10000 ? '4' : '5'","ticks":false,"tickSize":0,"domain":false,"labelAlign":"left","labelPadding":64,"labelFontSize":23,"labelFont":"DejaVu Sans","labelColor":"black","labelOffset":-5,"labelBaseline":"middle","grid":false,"title":null,"labelOverlap":false,"labelBound":false,"labelFlush":false}}}},
{"data":{"name":"pts"},"transform":[{"filter":"datum.lo != null"}],
 "mark":{"type":"errorbar","ticks":{"size":11,"thickness":1.8},"thickness":1.8,"color":"black"},
 "encoding":{
  "x":{"field":"x","type":"quantitative","scale":{"type":"linear","domain":[0,1],"nice":false,"zero":false},"axis":null},
  "y":{"field":"lo","type":"quantitative","scale":{"type":"log","domain":[1,100000],"nice":false},"axis":null},
  "y2":{"field":"hi"}}},
{"data":{"name":"pts"},"transform":[{"filter":"datum.lo2 != null"}],
 "mark":{"type":"errorbar","ticks":{"size":8,"thickness":1.5},"thickness":1.8,"color":"black"},
 "encoding":{
  "x":{"field":"x","type":"quantitative","scale":{"type":"linear","domain":[0,1],"nice":false,"zero":false},"axis":null},
  "y":{"field":"lo2","type":"quantitative","scale":{"type":"log","domain":[1,100000],"nice":false},"axis":null},
  "y2":{"field":"hi2"}}},
{"data":{"name":"pts"},"transform":[{"filter":"datum.d == 'Present Data'"}],
 "mark":{"type":"point","filled":true,"fill":"black","stroke":"black","strokeWidth":0,"opacity":1,"size":600},
 "encoding":{
  "x":{"field":"x","type":"quantitative","scale":{"type":"linear","domain":[0,1],"nice":false,"zero":false},"axis":null},
  "y":{"field":"y","type":"quantitative","scale":{"type":"log","domain":[1,100000],"nice":false},"axis":null},
  "shape":{"field":"d","type":"nominal","scale":{"domain":["Present Data","Bardayan et al. [2001]","Chae et al. [2006]","Bardayan et al. [2002]","de Sereville et al. [2009]","Dufour & Descouvemont. [2007]"],"range":["diamond","M-1,-0.75L-0.75,-1L0,-0.25L0.75,-1L1,-0.75L0.25,0L1,0.75L0.75,1L0,0.25L-0.75,1L-1,0.75L-0.25,0Z","circle","square","triangle-up","M-4,-0.12L3.5,-0.12L3.5,0.12L-4,0.12Z"]},
   "legend":{"title":null,"orient":"none","legendX":407,"legendY":709,"columns":2,"columnPadding":40,"rowPadding":5.5,"symbolSize":240,"symbolFillColor":"black","symbolStrokeColor":"black","symbolStrokeWidth":0,"labelOffset":20,"labelFont":"DejaVu Sans","labelFontSize":28,"labelColor":"black","labelLimit":600,"padding":0}}}},
{"data":{"name":"pts"},"transform":[{"filter":"datum.d == 'Bardayan et al. [2002]'"}],
 "mark":{"type":"point","filled":true,"fill":"black","stroke":"black","strokeWidth":0,"opacity":1,"size":300},
 "encoding":{
  "x":{"field":"x","type":"quantitative","scale":{"type":"linear","domain":[0,1],"nice":false,"zero":false},"axis":null},
  "y":{"field":"y","type":"quantitative","scale":{"type":"log","domain":[1,100000],"nice":false},"axis":null},
  "shape":{"field":"d","type":"nominal"}}},
{"data":{"name":"pts"},"transform":[{"filter":"datum.d == 'Bardayan et al. [2001]'"}],
 "mark":{"type":"point","filled":true,"fill":"black","stroke":"black","strokeWidth":0,"opacity":1,"size":130},
 "encoding":{
  "x":{"field":"x","type":"quantitative","scale":{"type":"linear","domain":[0,1],"nice":false,"zero":false},"axis":null},
  "y":{"field":"y","type":"quantitative","scale":{"type":"log","domain":[1,100000],"nice":false},"axis":null},
  "shape":{"field":"d","type":"nominal"}}},
{"data":{"name":"pts"},"transform":[{"filter":"datum.d == 'de Sereville et al. [2009]'"}],
 "mark":{"type":"point","filled":true,"fill":"black","stroke":"black","strokeWidth":0,"opacity":1,"size":200},
 "encoding":{
  "x":{"field":"x","type":"quantitative","scale":{"type":"linear","domain":[0,1],"nice":false,"zero":false},"axis":null},
  "y":{"field":"y","type":"quantitative","scale":{"type":"log","domain":[1,100000],"nice":false},"axis":null},
  "shape":{"field":"d","type":"nominal"}}},
{"data":{"name":"pts"},"transform":[{"filter":"datum.d == 'Chae et al. [2006]'"}],
 "mark":{"type":"point","filled":true,"fill":"black","stroke":"black","strokeWidth":0,"opacity":1,"size":220},
 "encoding":{
  "x":{"field":"x","type":"quantitative","scale":{"type":"linear","domain":[0,1],"nice":false,"zero":false},"axis":null},
  "y":{"field":"y","type":"quantitative","scale":{"type":"log","domain":[1,100000],"nice":false},"axis":null},
  "shape":{"field":"d","type":"nominal"}}},
{"data":{"name":"lims"},"mark":{"type":"rule","color":"#555","strokeWidth":2.5},
 "encoding":{
  "x":{"field":"x","type":"quantitative","scale":{"type":"linear","domain":[0,1],"nice":false,"zero":false},"axis":null},
  "y":{"field":"y","type":"quantitative","scale":{"type":"log","domain":[1,100000],"nice":false},"axis":null},
  "y2":{"field":"lim"}}},
{"data":{"name":"lims"},"mark":{"type":"point","shape":"triangle-down","filled":true,"color":"#555","opacity":1,"size":90},
 "encoding":{
  "x":{"field":"x","type":"quantitative","scale":{"type":"linear","domain":[0,1],"nice":false,"zero":false},"axis":null},
  "y":{"field":"lim","type":"quantitative","scale":{"type":"log","domain":[1,100000],"nice":false},"axis":null}}},
{"data":{"values":[{"t":"3/2+ (?)","x":0.0408,"y":11120},{"t":"3/2+","x":0.631,"y":23990},{"t":"1/2+","x":-0.0119,"y":53.1},{"t":"1/2+","x":0.8604,"y":35.9}]},
 "mark":{"type":"text","font":"Liberation Sans","fontSize":47,"color":"#800080","align":"left","baseline":"middle"},
 "encoding":{
  "x":{"field":"x","type":"quantitative","scale":{"type":"linear","domain":[0,1],"nice":false,"zero":false},"axis":null},
  "y":{"field":"y","type":"quantitative","scale":{"type":"log","domain":[1,100000],"nice":false},"axis":null},
  "text":{"field":"t","type":"nominal"}}},
{"data":{"values":[{"t":"indirect","x":0.0141,"y":182500},{"t":"direct (p,p) + (p,α)","x":0.4766,"y":167900}]},
 "mark":{"type":"text","font":"Liberation Sans","fontSize":47,"color":"#8a8a8a","align":"left","baseline":"middle"},
 "encoding":{
  "x":{"field":"x","type":"quantitative","scale":{"type":"linear","domain":[0,1],"nice":false,"zero":false},"axis":null},
  "y":{"field":"y","type":"quantitative","scale":{"type":"log","domain":[1,100000],"nice":false},"axis":null},
  "text":{"field":"t","type":"nominal"}}},
{"data":{"values":[{"t":"Beer et al. PRL (2011)","x":0.983,"y":55600}]},
 "mark":{"type":"text","font":"Liberation Sans","fontSize":37,"color":"#8b0000","align":"right","baseline":"middle"},
 "encoding":{
  "x":{"field":"x","type":"quantitative","scale":{"type":"linear","domain":[0,1],"nice":false,"zero":false},"axis":null},
  "y":{"field":"y","type":"quantitative","scale":{"type":"log","domain":[1,100000],"nice":false},"axis":null},
  "text":{"field":"t","type":"nominal"}}},
{"data":{"values":[{"t":"2 events!!","x":0.2487,"y":2075}]},
 "mark":{"type":"text","font":"Liberation Sans","fontSize":48,"color":"#008000","align":"center","baseline":"middle","angle":270},
 "encoding":{
  "x":{"field":"x","type":"quantitative","scale":{"type":"linear","domain":[0,1],"nice":false,"zero":false},"axis":null},
  "y":{"field":"y","type":"quantitative","scale":{"type":"log","domain":[1,100000],"nice":false},"axis":null},
  "text":{"field":"t","type":"nominal"}}},
{"data":{"values":[{"t":"0.05 - 0.35 GK","x":0.2019,"y":31770}]},
 "mark":{"type":"text","font":"DejaVu Sans","fontSize":35,"color":"black","align":"center","baseline":"middle"},
 "encoding":{
  "x":{"field":"x","type":"quantitative","scale":{"type":"linear","domain":[0,1],"nice":false,"zero":false},"axis":null},
  "y":{"field":"y","type":"quantitative","scale":{"type":"log","domain":[1,100000],"nice":false},"axis":null},
  "text":{"field":"t","type":"nominal"}}}
]
}
